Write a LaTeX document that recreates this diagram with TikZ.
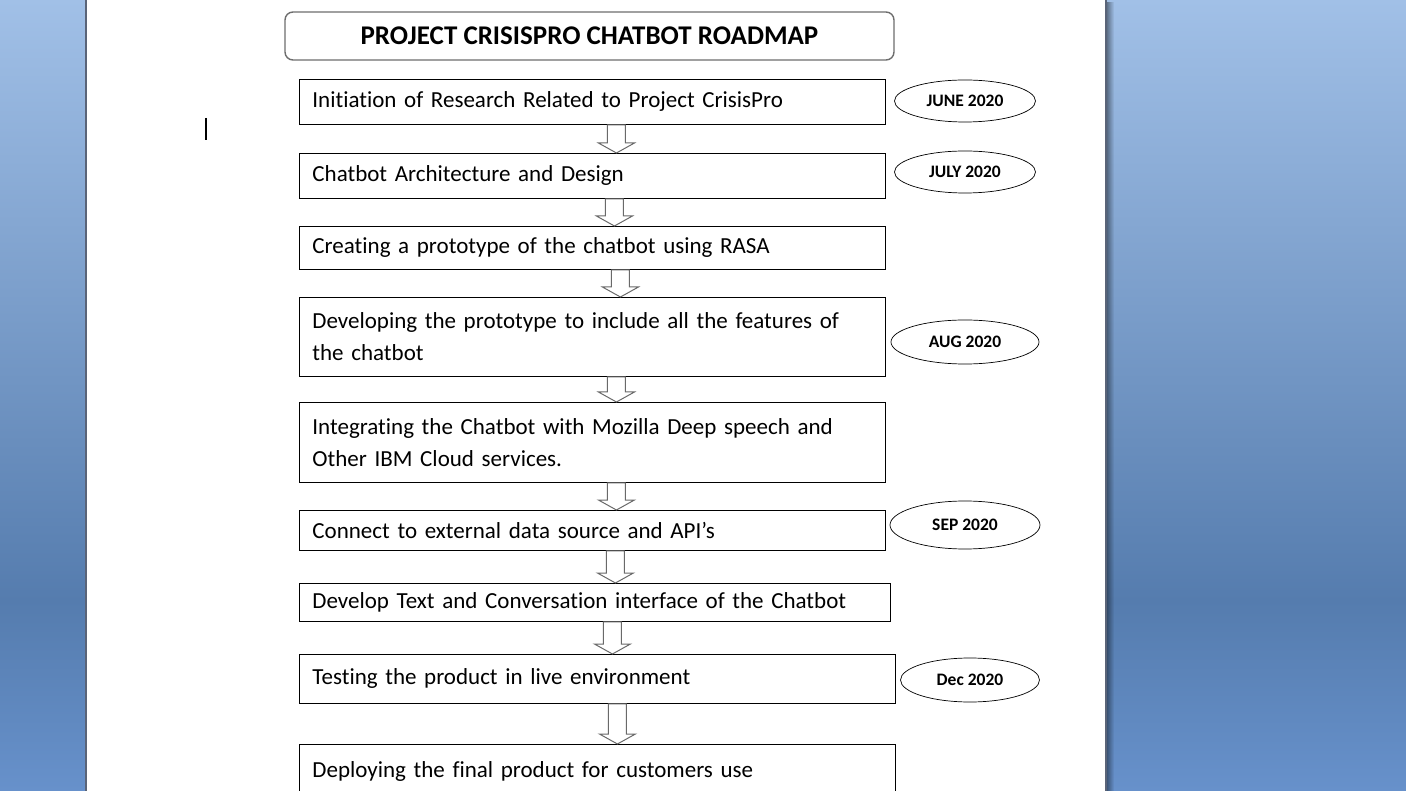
\documentclass[tikz,border=0pt]{standalone}
\usepackage{fontspec}
\setmainfont{Carlito}[Ligatures={CommonOff}]
\usetikzlibrary{calc,shapes.geometric,fadings}
\definecolor{bgtop}{RGB}{161,192,231}
\definecolor{bgmid}{RGB}{85,124,174}
\definecolor{bgbot}{RGB}{103,145,203}
\definecolor{arrowgray}{RGB}{105,105,105}
\definecolor{edgegray}{RGB}{90,100,120}
\definecolor{titlegray}{RGB}{110,110,110}
\tikzset{
  stepbox/.style={draw=black, line width=0.9pt, fill=white, inner xsep=13pt, inner ysep=0pt,
    text width=560pt, align=left, anchor=north west, font=\fontsize{23}{32}\selectfont},
  titlebox/.style={draw=titlegray, line width=1.4pt, rounded corners=8pt, fill=white,
    font=\bfseries\fontsize{27}{30}\selectfont, inner sep=0pt},
  dateell/.style={ellipse, draw=black, line width=0.7pt, fill=white, inner sep=0pt,
    font=\bfseries\fontsize{17.5}{19}\selectfont},
  blockarrow/.style={draw=arrowgray, line width=1pt, fill=white,
    to path={let \p1=(\tikztostart), \p2=(\tikztotarget) in
      (\x1-9pt,\y1) -- (\x1+9pt,\y1) -- (\x1+9pt,\y2+10pt) -- (\x1+18pt,\y2+10pt)
      -- (\x1,\y2) -- (\x1-18pt,\y2+10pt) -- (\x1-9pt,\y2+10pt) -- cycle}}
}
\begin{document}
\begin{tikzpicture}[x=1pt,y=-1pt]
\useasboundingbox (0,0) rectangle (1406,791);
\clip (0,0) rectangle (1406,791);
% background
\shade[top color=bgtop, bottom color=bgmid] (0,0) rectangle (1406,601);
\shade[top color=bgmid, bottom color=bgbot] (0,600) rectangle (1406,791);
\fill[white] (86,0) rectangle (1106,791);
\fill[black, opacity=0.45, path fading=east] (1106,0) rectangle (1114,791);
\draw[edgegray, line width=1.2pt] (86,0) -- (86,791);
\draw[edgegray, line width=1.2pt] (1106,0) -- (1106,791);
% text cursor
\draw[black, line width=2pt] (206,118) -- (206,140);
% title
\node[titlebox, minimum width=609pt, minimum height=48pt] (title) at (589.5,36) {PROJECT CRISISPRO CHATBOT ROADMAP};
% steps
\node[stepbox, minimum width=586pt, minimum height=45pt] (b1) at (299,79) {Initiation of Research Related to Project CrisisPro};
\node[stepbox, minimum width=586pt, minimum height=45pt] (b2) at (299,153) {Chatbot Architecture and Design};
\node[stepbox, minimum width=586pt, minimum height=43pt] (b3) at (299,226) {Creating a prototype of the chatbot using RASA};
\node[stepbox, minimum width=586pt, minimum height=79pt] (b4) at (299,297) {Developing the prototype to include all the features of\\the chatbot};
\node[stepbox, minimum width=586pt, minimum height=80pt] (b5) at (299,402) {Integrating the Chatbot with Mozilla Deep speech and\\Other IBM Cloud services.};
\node[stepbox, minimum width=586pt, minimum height=40pt] (b6) at (299,510) {Connect to external data source and API’s};
\node[stepbox, text width=565pt, minimum width=591pt, minimum height=38pt] (b7) at (299,583) {Develop Text and Conversation interface of the Chatbot};
\node[stepbox, text width=570pt, minimum width=596pt, minimum height=49pt] (b8) at (299,654) {\raisebox{3pt}{Testing the product in live environment}};
\node[stepbox, text width=570pt, minimum width=596pt, minimum height=60pt] (b9) at (299,744) {\raisebox{9pt}{Deploying the final product for customers use}};
% dates
\node[dateell, minimum width=141pt, minimum height=42pt] (d1) at (965,101) {JUNE 2020};
\node[dateell, minimum width=141pt, minimum height=42pt] (d2) at (965,172) {JULY 2020};
\node[dateell, minimum width=148pt, minimum height=44pt] (d3) at (965,342) {AUG 2020};
\node[dateell, minimum width=150pt, minimum height=48pt] (d4) at (965,525) {SEP 2020};
\node[dateell, minimum width=139pt, minimum height=44pt] (d5) at (970,680) {Dec 2020};
% arrows
\draw[blockarrow] ([xshift=24pt]b1.south) to ([xshift=24pt]b2.north);
\draw[blockarrow] ([xshift=22pt]b2.south) to ([xshift=22pt]b3.north);
\draw[blockarrow] ([xshift=28pt]b3.south) to ([xshift=28pt]b4.north);
\draw[blockarrow] ([xshift=24pt]b4.south) to ([xshift=24pt]b5.north);
\draw[blockarrow] ([xshift=24pt]b5.south) to ([xshift=24pt]b6.north);
\draw[blockarrow] ([xshift=23pt]b6.south) to ([xshift=23pt]b7.north);
\draw[blockarrow] ([xshift=17.5pt]b7.south) to ([xshift=17.5pt]b8.north);
\draw[blockarrow] ([xshift=20pt]b8.south) to ([xshift=20pt]b9.north);
\end{tikzpicture}
\end{document}
